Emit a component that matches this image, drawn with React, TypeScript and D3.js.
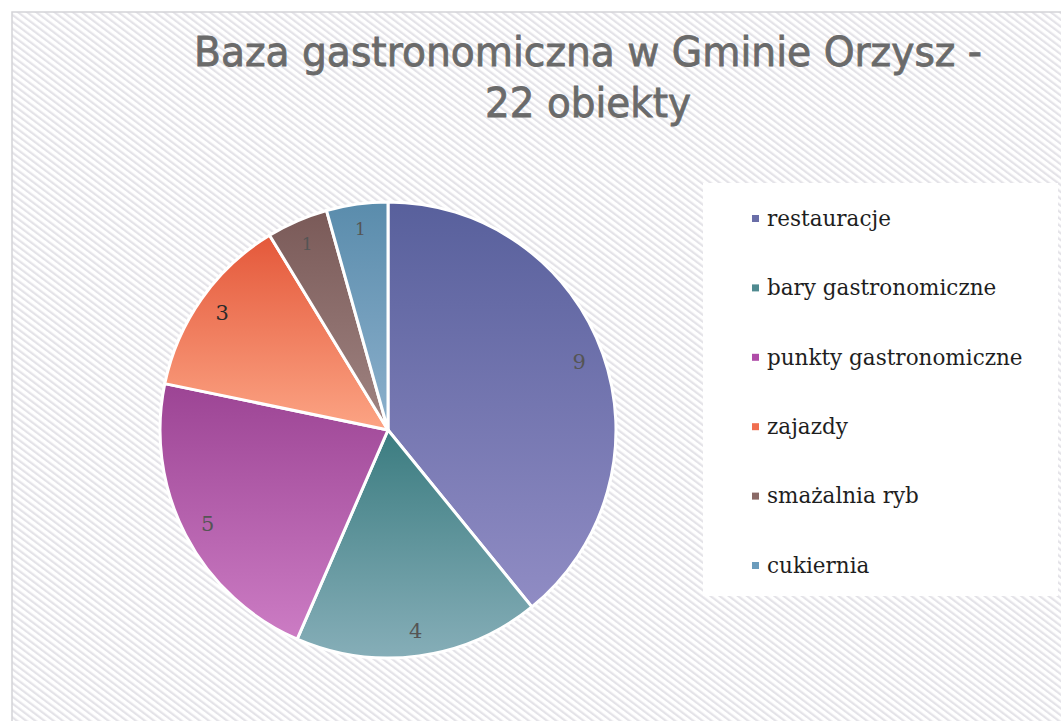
import React, { useEffect, useRef } from "react";
import * as d3 from "d3";

const categories = [
  "restauracje",
  "bary gastronomiczne",
  "punkty gastronomiczne",
  "zajazdy",
  "smażalnia ryb",
  "cukiernia",
];
const values = [9, 4, 5, 3, 1, 1];
const titleLines = ["Baza gastronomiczna w Gminie Orzysz -", "22 obiekty"];

// top / bottom colours of each slice gradient
const colorsTop = ["#58609c", "#3b7c80", "#9c4494", "#e4583a", "#7a5a58", "#5a8cac"];
const colorsBottom = ["#908cc4", "#86aeb8", "#cc7cc4", "#fca484", "#a08482", "#8cb0cc"];
const legendColors = ["#6a6ea8", "#4f8a90", "#b04ca8", "#f06e50", "#8a6a66", "#6c9cbc"];

const App: React.FC = () => {
  const ref = useRef<SVGSVGElement | null>(null);

  useEffect(() => {
    document.body.style.margin = "0";
    const width = 1061;
    const height = 721;
    const svg = d3.select(ref.current).attr("width", width).attr("height", height);
    svg.selectAll("*").remove();

    const defs = svg.append("defs");
    const pattern = defs
      .append("pattern")
      .attr("id", "hatch")
      .attr("patternUnits", "userSpaceOnUse")
      .attr("width", 5.5)
      .attr("height", 5.5)
      .attr("patternTransform", "rotate(-143)");
    pattern.append("rect").attr("width", 5.5).attr("height", 5.5).attr("fill", "#ffffff");
    pattern.append("rect").attr("width", 5.5).attr("height", 2.2).attr("fill", "#e4e3e8");

    colorsTop.forEach((c, i) => {
      const g = defs
        .append("linearGradient")
        .attr("id", `grad${i}`)
        .attr("x1", 0)
        .attr("y1", 0)
        .attr("x2", 0)
        .attr("y2", 1);
      g.append("stop").attr("offset", "0%").attr("stop-color", c);
      g.append("stop").attr("offset", "100%").attr("stop-color", colorsBottom[i]);
    });

    svg.append("rect").attr("width", width).attr("height", height).attr("fill", "#ffffff");
    svg
      .append("rect")
      .attr("x", 12)
      .attr("y", 12)
      .attr("width", width)
      .attr("height", height)
      .attr("fill", "url(#hatch)")
      .attr("stroke", "#d4d4d8")
      .attr("stroke-width", 1.5);

    // title
    const title = svg
      .append("text")
      .attr("text-anchor", "middle")
      .attr("fill", "#6a6a6a")
      .attr("stroke", "#6a6a6a")
      .attr("stroke-width", 0.8)
      .style("font-family", "'DejaVu Sans', sans-serif")
      .style("font-size", "40px");
    titleLines.forEach((t, i) => {
      title
        .append("tspan")
        .attr("x", 588)
        .attr("y", 66 + i * 51)
        .attr("textLength", i === 0 ? 788 : 206)
        .attr("lengthAdjust", "spacingAndGlyphs")
        .text(t);
    });

    // pie
    const cx = 388;
    const cy = 430;
    const radius = 228;
    const pie = d3
      .pie<number>()
      .sort(null)
      .value((d) => d);
    const arcs = pie(values);
    const arc = d3.arc<d3.PieArcDatum<number>>().innerRadius(0).outerRadius(radius);
    const labelArc = d3.arc<d3.PieArcDatum<number>>().innerRadius(203).outerRadius(203);

    const g = svg.append("g").attr("transform", `translate(${cx},${cy})`);
    g.selectAll("path")
      .data(arcs)
      .enter()
      .append("path")
      .attr("d", arc)
      .attr("fill", (_d, i) => `url(#grad${i})`)
      .attr("stroke", "#ffffff")
      .attr("stroke-width", 3)
      .attr("stroke-linejoin", "round");

    g.selectAll("text.lbl")
      .data(arcs)
      .enter()
      .append("text")
      .attr("class", "lbl")
      .attr("transform", (d) => {
        const [x, y] = labelArc.centroid(d);
        return `translate(${x},${y})`;
      })
      .attr("text-anchor", "middle")
      .attr("dy", "0.35em")
      .attr("fill", (_d, i) => (i === 3 ? "#2a2a2a" : "#555555"))
      .style("font-family", "'DejaVu Serif', 'Liberation Serif', serif")
      .style("font-size", (_d, i) => (i >= 4 ? "17px" : "21px"))
      .text((d) => String(d.data));

    // legend
    svg
      .append("rect")
      .attr("x", 703)
      .attr("y", 183)
      .attr("width", 355)
      .attr("height", 413)
      .attr("fill", "#ffffff");

    const y = d3
      .scalePoint<string>()
      .domain(categories)
      .range([219, 566]);

    const items = svg
      .selectAll("g.leg")
      .data(categories)
      .enter()
      .append("g")
      .attr("class", "leg")
      .attr("transform", (d) => `translate(752,${y(d)})`);
    items
      .append("rect")
      .attr("x", 0)
      .attr("y", -4)
      .attr("width", 7)
      .attr("height", 7)
      .attr("fill", (_d, i) => legendColors[i]);
    items
      .append("text")
      .attr("x", 15)
      .attr("dy", "0.32em")
      .attr("fill", "#1e1e1e")
      .style("font-family", "'DejaVu Serif', 'Liberation Serif', serif")
      .style("font-size", "21.5px")
      .text((d) => d);
  }, []);

  return <svg ref={ref} style={{ display: "block" }} />;
};

export default App;
